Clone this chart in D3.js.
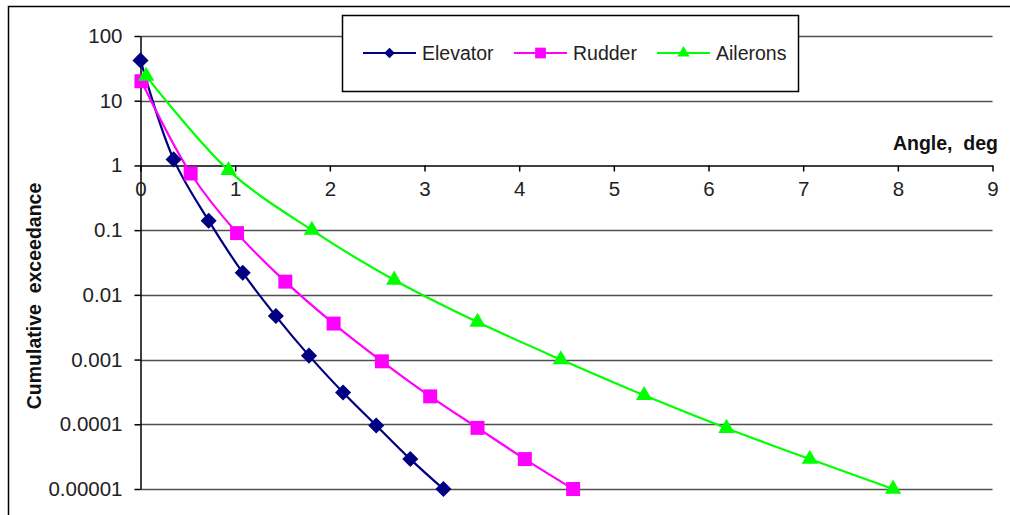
<!DOCTYPE html>
<html>
<head>
<meta charset="utf-8">
<script src="https://cdn.jsdelivr.net/npm/d3@7"></script>
<style>
  html, body { margin: 0; padding: 0; background: #fff; }
  svg { display: block; font-family: "Liberation Sans", Arial, sans-serif; }
</style>
</head>
<body>
<svg id="chart" width="1010" height="515"></svg>
<script>
// Cumulative exceedance of control-surface deflection angles
const yTicks = [100, 10, 1, 0.1, 0.01, 0.001, 0.0001, 0.00001];
const yTickLabels = ["100", "10", "1", "0.1", "0.01", "0.001", "0.0001", "0.00001"];
const xTicks = [0, 1, 2, 3, 4, 5, 6, 7, 8, 9];

const elevatorAngle = [0, 0.35, 0.72, 1.08, 1.43, 1.78, 2.14, 2.49, 2.85, 3.2];
const elevatorExceed = [42, 1.24, 0.14, 0.022, 0.0047, 0.00115, 0.00031, 0.000096, 0.000029, 0.00001];

const rudderAngle = [0.01, 0.53, 1.02, 1.53, 2.04, 2.55, 3.06, 3.56, 4.06, 4.57];
const rudderExceed = [20, 0.75, 0.09, 0.016, 0.0036, 0.00094, 0.00027, 0.000088, 0.000029, 0.00001];

const aileronsAngle = [0.06, 0.93, 1.81, 2.68, 3.56, 4.44, 5.32, 6.19, 7.07, 7.95];
const aileronsExceed = [24, 0.84, 0.1, 0.017, 0.0038, 0.001, 0.00028, 0.000087, 0.000029, 0.00001];

const seriesNames = ["Elevator", "Rudder", "Ailerons"];
const seriesColors = ["#000080", "#FF00FF", "#00FF00"];
const seriesSymbols = [d3.symbolDiamond2, d3.symbolSquare, d3.symbolTriangle];

const series = [
  { name: seriesNames[0], color: seriesColors[0], symbol: seriesSymbols[0], size: 165, legendSize: 70,
    points: elevatorAngle.map((a, i) => ({ x: a, y: elevatorExceed[i] })) },
  { name: seriesNames[1], color: seriesColors[1], symbol: seriesSymbols[1], size: 195, legendSize: 115,
    points: rudderAngle.map((a, i) => ({ x: a, y: rudderExceed[i] })) },
  { name: seriesNames[2], color: seriesColors[2], symbol: seriesSymbols[2], size: 115, legendSize: 65,
    points: aileronsAngle.map((a, i) => ({ x: a, y: aileronsExceed[i] })) }
];

const svg = d3.select("#chart");

const x = d3.scaleLinear().domain([0, 9]).range([140.5, 992.5]);
const y = d3.scaleLog().domain([0.00001, 100]).range([489, 36]);

// outer frame
svg.append("rect")
  .attr("x", 8.5).attr("y", 6.5)
  .attr("width", 1010).attr("height", 520)
  .attr("fill", "#fff").attr("stroke", "#000").attr("stroke-width", 1.5);

// horizontal gridlines at each decade
svg.append("g")
  .selectAll("line")
  .data(yTicks.filter(v => v !== 1))
  .join("line")
  .attr("x1", x(0)).attr("x2", x(9))
  .attr("y1", d => Math.round(y(d)) + 0.5).attr("y2", d => Math.round(y(d)) + 0.5)
  .attr("stroke", "#505050").attr("stroke-width", 1.5);

// y axis on the left
const yAxis = d3.axisLeft(y)
  .tickValues(yTicks)
  .tickFormat((d, i) => yTickLabels[i])
  .tickSizeInner(6).tickSizeOuter(0).tickPadding(12);
const gy = svg.append("g").attr("transform", `translate(${x(0)},0)`).call(yAxis);
gy.select(".domain").attr("stroke", "#000").attr("stroke-width", 1.5);
gy.selectAll(".tick line").attr("stroke", "#000").attr("stroke-width", 1.5);
gy.selectAll(".tick text")
  .attr("font-size", 20.5).attr("fill", "#222")
  .attr("font-family", "'Liberation Sans', Arial, sans-serif");

// x axis crossing at exceedance = 1
const xAxis = d3.axisBottom(x)
  .tickValues(xTicks)
  .tickSizeInner(6).tickSizeOuter(0).tickPadding(10);
const gx = svg.append("g").attr("transform", `translate(0,${Math.round(y(1)) + 0.5})`).call(xAxis);
gx.select(".domain").attr("stroke", "#000").attr("stroke-width", 1.5);
gx.selectAll(".tick line").attr("stroke", "#000").attr("stroke-width", 1.5);
gx.selectAll(".tick text")
  .attr("font-size", 20.5).attr("fill", "#222")
  .attr("font-family", "'Liberation Sans', Arial, sans-serif");

// axis titles
svg.append("text")
  .attr("x", 998).attr("y", 150)
  .attr("text-anchor", "end")
  .attr("font-size", 19.5).attr("font-weight", "bold").attr("fill", "#111")
  .attr("xml:space", "preserve")
  .text("Angle,  deg");

svg.append("text")
  .attr("transform", "translate(41,296) rotate(-90)")
  .attr("text-anchor", "middle")
  .attr("font-size", 19.5).attr("font-weight", "bold").attr("fill", "#111")
  .attr("xml:space", "preserve")
  .text("Cumulative  exceedance");

// smoothed series lines and markers
const line = d3.line()
  .x(d => x(d.x)).y(d => y(d.y))
  .curve(d3.curveCatmullRom.alpha(0.5));

series.forEach(s => {
  svg.append("path")
    .datum(s.points)
    .attr("d", line)
    .attr("fill", "none")
    .attr("stroke", s.color)
    .attr("stroke-width", 2.2);
});

series.forEach(s => {
  svg.append("g")
    .selectAll("path")
    .data(s.points)
    .join("path")
    .attr("transform", d => `translate(${x(d.x)},${y(d.y)})`)
    .attr("d", d3.symbol().type(s.symbol).size(s.size))
    .attr("fill", s.color);
});

// legend
const legend = svg.append("g");
legend.append("rect")
  .attr("x", 342.5).attr("y", 15.5).attr("width", 456).attr("height", 76)
  .attr("fill", "#fff").attr("stroke", "#000").attr("stroke-width", 1.5);

const legendX = [363, 514, 657];
series.forEach((s, i) => {
  const lx = legendX[i];
  legend.append("line")
    .attr("x1", lx).attr("x2", lx + 53)
    .attr("y1", 53).attr("y2", 53)
    .attr("stroke", s.color).attr("stroke-width", 2.2);
  legend.append("path")
    .attr("transform", `translate(${lx + 26.5},53)`)
    .attr("d", d3.symbol().type(s.symbol).size(s.legendSize))
    .attr("fill", s.color);
  legend.append("text")
    .attr("x", lx + 59).attr("y", 60)
    .attr("font-size", 19.5).attr("fill", "#222")
    .text(s.name);
});
</script>
</body>
</html>
